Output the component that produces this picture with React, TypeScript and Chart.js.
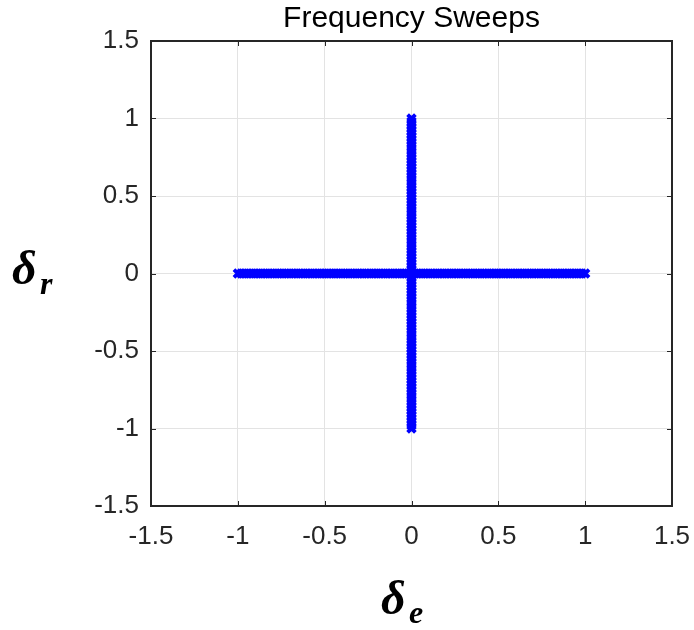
import React, { useEffect, useRef } from "react";
import { Chart, registerables } from "chart.js";

Chart.register(...registerables);

const chartTitle = "Frequency Sweeps";
const axisTicks = [-1.5, -1, -0.5, 0, 0.5, 1, 1.5];
const tickLabels = ["-1.5", "-1", "-0.5", "0", "0.5", "1", "1.5"];

// Elevator sweep (δe varied, δr = 0)
const elevatorSweep = [
  -1, -0.98, -0.96, -0.94, -0.92, -0.9, -0.88, -0.86, -0.84, -0.82,
  -0.8, -0.78, -0.76, -0.74, -0.72, -0.7, -0.68, -0.66, -0.64, -0.62,
  -0.6, -0.58, -0.56, -0.54, -0.52, -0.5, -0.48, -0.46, -0.44, -0.42,
  -0.4, -0.38, -0.36, -0.34, -0.32, -0.3, -0.28, -0.26, -0.24, -0.22,
  -0.2, -0.18, -0.16, -0.14, -0.12, -0.1, -0.08, -0.06, -0.04, -0.02,
  0, 0.02, 0.04, 0.06, 0.08, 0.1, 0.12, 0.14, 0.16, 0.18,
  0.2, 0.22, 0.24, 0.26, 0.28, 0.3, 0.32, 0.34, 0.36, 0.38,
  0.4, 0.42, 0.44, 0.46, 0.48, 0.5, 0.52, 0.54, 0.56, 0.58,
  0.6, 0.62, 0.64, 0.66, 0.68, 0.7, 0.72, 0.74, 0.76, 0.78,
  0.8, 0.82, 0.84, 0.86, 0.88, 0.9, 0.92, 0.94, 0.96, 0.98, 1,
];
// Rudder sweep (δr varied, δe = 0)
const rudderSweep = [
  -1, -0.98, -0.96, -0.94, -0.92, -0.9, -0.88, -0.86, -0.84, -0.82,
  -0.8, -0.78, -0.76, -0.74, -0.72, -0.7, -0.68, -0.66, -0.64, -0.62,
  -0.6, -0.58, -0.56, -0.54, -0.52, -0.5, -0.48, -0.46, -0.44, -0.42,
  -0.4, -0.38, -0.36, -0.34, -0.32, -0.3, -0.28, -0.26, -0.24, -0.22,
  -0.2, -0.18, -0.16, -0.14, -0.12, -0.1, -0.08, -0.06, -0.04, -0.02,
  0, 0.02, 0.04, 0.06, 0.08, 0.1, 0.12, 0.14, 0.16, 0.18,
  0.2, 0.22, 0.24, 0.26, 0.28, 0.3, 0.32, 0.34, 0.36, 0.38,
  0.4, 0.42, 0.44, 0.46, 0.48, 0.5, 0.52, 0.54, 0.56, 0.58,
  0.6, 0.62, 0.64, 0.66, 0.68, 0.7, 0.72, 0.74, 0.76, 0.78,
  0.8, 0.82, 0.84, 0.86, 0.88, 0.9, 0.92, 0.94, 0.96, 0.98, 1,
];
const heldAtZero = 0;

const W = 694;
const H = 630;
const LEFT = 151;
const RIGHT = 672;
const TOP = 41;
const BOTTOM = 506;

const decorPlugin = {
  id: "decor",
  afterDraw(chart: any) {
    const ctx = chart.ctx as CanvasRenderingContext2D;
    const a = chart.chartArea;
    const xs = chart.scales.x;
    const ys = chart.scales.y;
    ctx.save();
    // inward ticks
    ctx.strokeStyle = "#262626";
    ctx.lineWidth = 1;
    const tl = 5;
    axisTicks.forEach((v) => {
      const px = Math.round(xs.getPixelForValue(v)) + 0.5;
      ctx.beginPath();
      ctx.moveTo(px, a.bottom);
      ctx.lineTo(px, a.bottom - tl);
      ctx.moveTo(px, a.top);
      ctx.lineTo(px, a.top + tl);
      ctx.stroke();
      const py = Math.round(ys.getPixelForValue(v)) + 0.5;
      ctx.beginPath();
      ctx.moveTo(a.left, py);
      ctx.lineTo(a.left + tl, py);
      ctx.moveTo(a.right, py);
      ctx.lineTo(a.right - tl, py);
      ctx.stroke();
    });
    // box
    ctx.lineWidth = 2;
    ctx.strokeStyle = "#262626";
    ctx.strokeRect(a.left, a.top, a.right - a.left, a.bottom - a.top);
    // title
    ctx.fillStyle = "#000";
    ctx.font = "30px 'Liberation Sans', Arial, sans-serif";
    ctx.textAlign = "center";
    ctx.textBaseline = "alphabetic";
    ctx.fillText(chartTitle, (a.left + a.right) / 2, 27);
    // axis labels
    const big = "bold italic 48px 'Liberation Serif', 'Times New Roman', serif";
    const small = "bold italic 32px 'Liberation Serif', 'Times New Roman', serif";
    ctx.textAlign = "left";
    // y label δ_r
    ctx.font = big;
    ctx.fillText("δ", 12, 284);
    ctx.font = small;
    ctx.fillText("r", 40, 294);
    // x label δ_e
    ctx.font = big;
    ctx.fillText("δ", 381, 614);
    ctx.font = small;
    ctx.fillText("e", 409, 623);
    ctx.restore();
  },
};

export default function App() {
  const ref = useRef<HTMLCanvasElement | null>(null);
  useEffect(() => {
    const canvas = ref.current!;
    const horiz = elevatorSweep.map((v) => ({ x: v, y: heldAtZero }));
    const vert = rudderSweep.map((v) => ({ x: heldAtZero, y: v }));
    const pointStyle = {
      showLine: false,
      pointStyle: "crossRot",
      pointRadius: 5.5,
      pointBorderWidth: 3.8,
      borderColor: "#0000ff",
      backgroundColor: "#0000ff",
      pointHoverRadius: 5.5,
    };
    const tickFont = { family: "'Liberation Sans', Arial, sans-serif", size: 26 };
    const chart = new Chart(canvas, {
      type: "scatter",
      data: {
        datasets: [
          { label: "δe sweep", data: horiz, ...pointStyle } as any,
          { label: "δr sweep", data: vert, ...pointStyle } as any,
        ],
      },
      options: {
        animation: false,
        responsive: false,
        devicePixelRatio: 1,
        layout: { padding: { left: 0, top: TOP, right: W - RIGHT, bottom: 0 } },
        plugins: { legend: { display: false }, tooltip: { enabled: false }, title: { display: false } },
        scales: {
          x: {
            type: "linear",
            min: -1.5,
            max: 1.5,
            afterBuildTicks: (s: any) => {
              s.ticks = axisTicks.map((v) => ({ value: v }));
            },
            afterFit: (s: any) => {
              s.height = H - BOTTOM;
              s.paddingLeft = 0;
              s.paddingRight = 0;
            },
            ticks: {
              callback: (v: any) => tickLabels[axisTicks.indexOf(Number(v))] ?? "",
              color: "#262626",
              font: tickFont,
              padding: 15,
              maxRotation: 0,
              autoSkip: false,
            },
            grid: { color: "#e3e3e3", lineWidth: 1, tickLength: 0, drawTicks: false },
            border: { display: false },
          },
          y: {
            type: "linear",
            min: -1.5,
            max: 1.5,
            afterBuildTicks: (s: any) => {
              s.ticks = axisTicks.map((v) => ({ value: v }));
            },
            afterFit: (s: any) => {
              s.width = LEFT;
              s.paddingTop = 0;
              s.paddingBottom = 0;
            },
            ticks: {
              callback: (v: any) => tickLabels[axisTicks.indexOf(Number(v))] ?? "",
              color: "#262626",
              font: tickFont,
              padding: 12,
              autoSkip: false,
            },
            grid: { color: "#e3e3e3", lineWidth: 1, tickLength: 0, drawTicks: false },
            border: { display: false },
          },
        },
      } as any,
      plugins: [decorPlugin],
    });
    return () => chart.destroy();
  }, []);
  return (
    <div style={{ position: "fixed", left: 0, top: 0, width: W, height: H, background: "#fff" }}>
      <canvas ref={ref} width={W} height={H} style={{ width: W, height: H, display: "block" }} />
    </div>
  );
}
